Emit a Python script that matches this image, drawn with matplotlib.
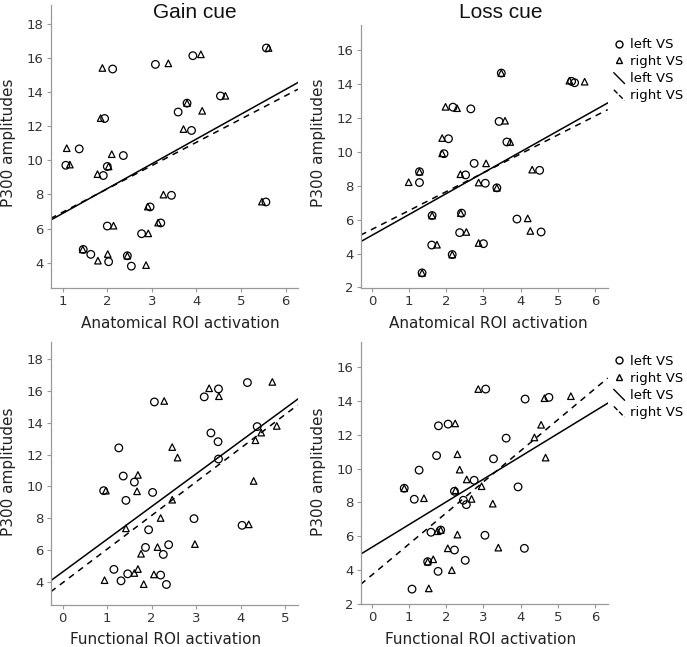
import matplotlib
matplotlib.use("Agg")
import matplotlib.pyplot as plt
from matplotlib.lines import Line2D
from matplotlib.legend_handler import HandlerLine2D

# ---- data ----
# gain cue, anatomical ROI
gain_anat_left_x = [1.07, 1.37, 1.46, 1.63, 1.91, 1.94, 2.12, 2.00, 2.00, 2.03, 2.36, 2.45, 2.54,
                    2.77, 2.96, 3.20, 3.44, 3.08, 3.59, 3.79, 3.89, 3.92, 4.54, 5.57, 5.56]
gain_anat_left_y = [9.71, 10.67, 4.78, 4.49, 9.11, 12.45, 15.35, 6.15, 9.64, 4.06, 10.28, 4.41, 3.80,
                    5.70, 7.27, 6.33, 7.95, 15.62, 12.83, 13.35, 11.75, 16.13, 13.77, 16.58, 7.56]
gain_anat_right_x = [1.09, 1.16, 1.45, 1.79, 1.78, 1.85, 1.89, 2.03, 2.10, 2.14, 2.01, 2.45, 2.87,
                     2.92, 2.91, 3.14, 3.26, 3.37, 3.71, 3.79, 4.13, 4.10, 4.65, 5.62, 5.47]
gain_anat_right_y = [10.71, 9.75, 4.78, 4.12, 9.19, 12.47, 15.41, 9.64, 10.36, 6.17, 4.51, 4.41, 3.86,
                     5.72, 7.29, 6.35, 7.99, 15.68, 11.83, 13.35, 12.90, 16.21, 13.78, 16.58, 7.58]

# loss cue, anatomical ROI
loss_anat_left_x = [1.28, 1.28, 1.35, 1.62, 1.61, 1.94, 2.06, 2.18, 2.16, 2.36, 2.41, 2.52, 2.66,
                    2.75, 3.05, 3.48, 3.42, 3.63, 3.36, 3.00, 3.90, 4.51, 4.55, 5.37, 5.45]
loss_anat_left_y = [8.18, 8.82, 2.86, 6.24, 4.50, 9.88, 10.76, 12.62, 3.94, 5.23, 6.38, 8.63, 12.52,
                    9.31, 8.14, 14.63, 11.78, 10.57, 7.87, 4.58, 6.03, 8.90, 5.27, 14.14, 14.06]
loss_anat_right_x = [0.99, 1.89, 1.89, 1.75, 1.98, 2.29, 2.38, 2.39, 2.54, 3.07, 2.87, 2.87, 3.58,
                     3.72, 4.31, 4.19, 4.26, 5.31, 5.72, 1.28, 1.35, 1.62, 2.16, 3.48, 3.36]
loss_anat_right_y = [8.20, 10.80, 9.90, 4.52, 12.64, 12.56, 8.67, 6.38, 5.27, 9.31, 8.18, 4.62, 11.82,
                     10.57, 8.94, 6.07, 5.33, 14.18, 14.12, 8.82, 2.86, 6.24, 3.94, 14.63, 7.87]

# gain cue, functional ROI
gain_func_left_x = [0.92, 1.26, 1.36, 1.61, 1.42, 2.02, 2.06, 1.93, 1.86, 2.26, 2.38, 1.15, 1.31,
                    1.46, 2.20, 2.33, 2.95, 3.18, 3.50, 3.33, 3.49, 3.50, 4.15, 4.37, 4.03]
gain_func_left_y = [9.73, 12.42, 10.65, 10.27, 9.12, 9.62, 15.31, 7.27, 6.16, 5.72, 6.33, 4.78, 4.06,
                    4.50, 4.42, 3.83, 7.97, 15.63, 16.13, 13.36, 12.81, 11.72, 16.53, 13.76, 7.55]
gain_func_right_x = [0.97, 0.94, 1.42, 1.69, 1.67, 1.76, 1.69, 1.61, 1.82, 2.05, 2.13, 2.20, 2.28,
                     2.46, 2.46, 2.58, 2.97, 3.29, 3.51, 4.71, 4.18, 4.29, 4.33, 4.46, 4.81]
gain_func_right_y = [9.73, 4.10, 7.36, 10.72, 9.69, 5.76, 4.80, 4.55, 3.85, 4.46, 6.18, 8.01, 15.37,
                     12.47, 9.16, 11.81, 6.37, 16.17, 15.67, 16.57, 7.61, 10.34, 12.90, 13.38, 13.80]

# loss cue, functional ROI
loss_func_left_x = [0.87, 1.14, 1.27, 1.08, 1.50, 1.74, 1.79, 2.05, 1.59, 1.85, 1.78, 2.22, 2.22,
                    2.46, 2.54, 2.51, 2.75, 3.06, 4.12, 4.76, 3.61, 3.27, 3.93, 3.04, 4.10]
loss_func_left_y = [8.84, 8.19, 9.91, 2.88, 4.50, 10.77, 12.53, 12.63, 6.24, 6.37, 3.93, 8.66, 5.19,
                    8.13, 7.87, 4.58, 9.31, 14.70, 14.11, 14.21, 11.80, 10.58, 8.92, 6.06, 5.29]
loss_func_right_x = [1.40, 1.53, 1.65, 1.76, 2.24, 2.30, 2.36, 2.25, 2.30, 2.04, 2.15, 2.55, 2.68,
                     2.86, 2.95, 3.25, 3.40, 4.37, 4.55, 4.67, 4.64, 5.35, 0.87, 1.85, 1.50]
loss_func_right_y = [8.25, 2.92, 4.64, 6.30, 12.67, 10.85, 9.94, 8.72, 6.10, 5.29, 4.00, 9.36, 8.21,
                     14.70, 8.96, 7.93, 5.33, 11.84, 12.59, 10.65, 14.16, 14.28, 8.84, 6.37, 4.50]

# regression lines (slope, intercept): left VS solid, right VS dashed
gain_anat_fit = [(1.452, 5.44), (1.364, 5.60)]
loss_anat_fit = [(1.230, 5.07), (1.113, 5.42)]
gain_func_fit = [(2.058, 4.62), (2.117, 3.94)]
loss_func_fit = [(1.343, 5.35), (1.836, 3.71)]


class DiagHandler(HandlerLine2D):
    # short slanted line like in the original legend
    def create_artists(self, legend, orig_handle, xdescent, ydescent, width, height, fontsize, trans):
        ln = Line2D([-xdescent, -xdescent + width], [height, -1],
                    color=orig_handle.get_color(), lw=orig_handle.get_linewidth(),
                    linestyle=orig_handle.get_linestyle())
        ln.set_transform(trans)
        return [ln]


fig = plt.figure(figsize=(6.87, 6.47), dpi=100)
W, H = 687, 647


def px_axes(l, t, r, b):
    return fig.add_axes([l / W, 1 - b / H, (r - l) / W, (b - t) / H])


def draw(ax, lx, ly, rx, ry, fit, xlim, ylim, xticks, yticks, legend=False):
    ax.scatter(lx, ly, s=30, marker="o", facecolors="none", edgecolors="black", linewidths=0.9, zorder=3)
    ax.scatter(rx, ry, s=22, marker="^", facecolors="none", edgecolors="black", linewidths=0.9, zorder=3)
    xs = [xlim[0], xlim[1]]
    ax.plot(xs, [fit[0][0] * x + fit[0][1] for x in xs], color="black", lw=1.1)
    ax.plot(xs, [fit[1][0] * x + fit[1][1] for x in xs], color="black", lw=1.1, dashes=(4, 3.5))
    ax.set_xlim(xlim)
    ax.set_ylim(ylim)
    ax.set_xticks(xticks)
    ax.set_yticks(yticks)
    for s in ["top", "right"]:
        ax.spines[s].set_visible(False)
    for s in ["left", "bottom"]:
        ax.spines[s].set_color("#999999")
        ax.spines[s].set_linewidth(0.9)
    ax.tick_params(direction="out", length=3, width=0.8, color="#999999",
                   labelsize=9.5, labelcolor="#333333", pad=2)
    if legend:
        h = [Line2D([], [], marker="o", ls="none", mfc="none", mec="black", ms=5),
             Line2D([], [], marker="^", ls="none", mfc="none", mec="black", ms=4.5),
             Line2D([], [], color="black", lw=1),
             Line2D([], [], color="black", lw=1, dashes=(2.5, 2))]
        ax.legend(h, ["left VS", "right VS", "left VS", "right VS"],
                  loc="upper left", bbox_to_anchor=(1.025, 0.95), frameon=False,
                  fontsize=9.5, handlelength=0.8, handletextpad=0.4, labelspacing=0.3,
                  borderaxespad=0, borderpad=0,
                  handler_map={h[2]: DiagHandler(), h[3]: DiagHandler()})


ax1 = px_axes(50.7, 5, 298, 288)
draw(ax1, gain_anat_left_x, gain_anat_left_y, gain_anat_right_x, gain_anat_right_y, gain_anat_fit,
     (0.73, 6.28), (2.52, 19.1), range(1, 7), range(4, 19, 2))
ax2 = px_axes(360.7, 25, 607.7, 288)
draw(ax2, loss_anat_left_x, loss_anat_left_y, loss_anat_right_x, loss_anat_right_y, loss_anat_fit,
     (-0.30, 6.34), (1.97, 17.46), range(0, 7), range(2, 17, 2), legend=True)
ax3 = px_axes(50.7, 341.7, 297.7, 605.3)
draw(ax3, gain_func_left_x, gain_func_left_y, gain_func_right_x, gain_func_right_y, gain_func_fit,
     (-0.27, 5.28), (2.52, 19.1), range(0, 6), range(4, 19, 2))
ax4 = px_axes(360.7, 341.7, 607.7, 604)
draw(ax4, loss_func_left_x, loss_func_left_y, loss_func_right_x, loss_func_right_y, loss_func_fit,
     (-0.30, 6.34), (2.0, 17.5), range(0, 7), range(2, 17, 2), legend=True)


def ftext(x, y, s, **kw):
    fig.text(x / W, 1 - y / H, s, ha="center", va="center", **kw)


ftext(195, 12, "Gain cue", fontsize=15, family="Liberation Sans", color="#111111")
ftext(501, 13, "Loss cue", fontsize=15, family="Liberation Sans", color="#111111")
for yy in (143, 472):
    ftext(9, yy, "P300 amplitudes", rotation=90, fontsize=11, color="#222222")
    ftext(319, yy, "P300 amplitudes", rotation=90, fontsize=11, color="#222222")
ftext(180, 323, "Anatomical ROI activation", fontsize=11, color="#222222")
ftext(488, 323, "Anatomical ROI activation", fontsize=11, color="#222222")
ftext(166, 639, "Functional ROI activation", fontsize=11, color="#222222")
ftext(481, 639, "Functional ROI activation", fontsize=11, color="#222222")

fig.savefig("out.png", dpi=100)
